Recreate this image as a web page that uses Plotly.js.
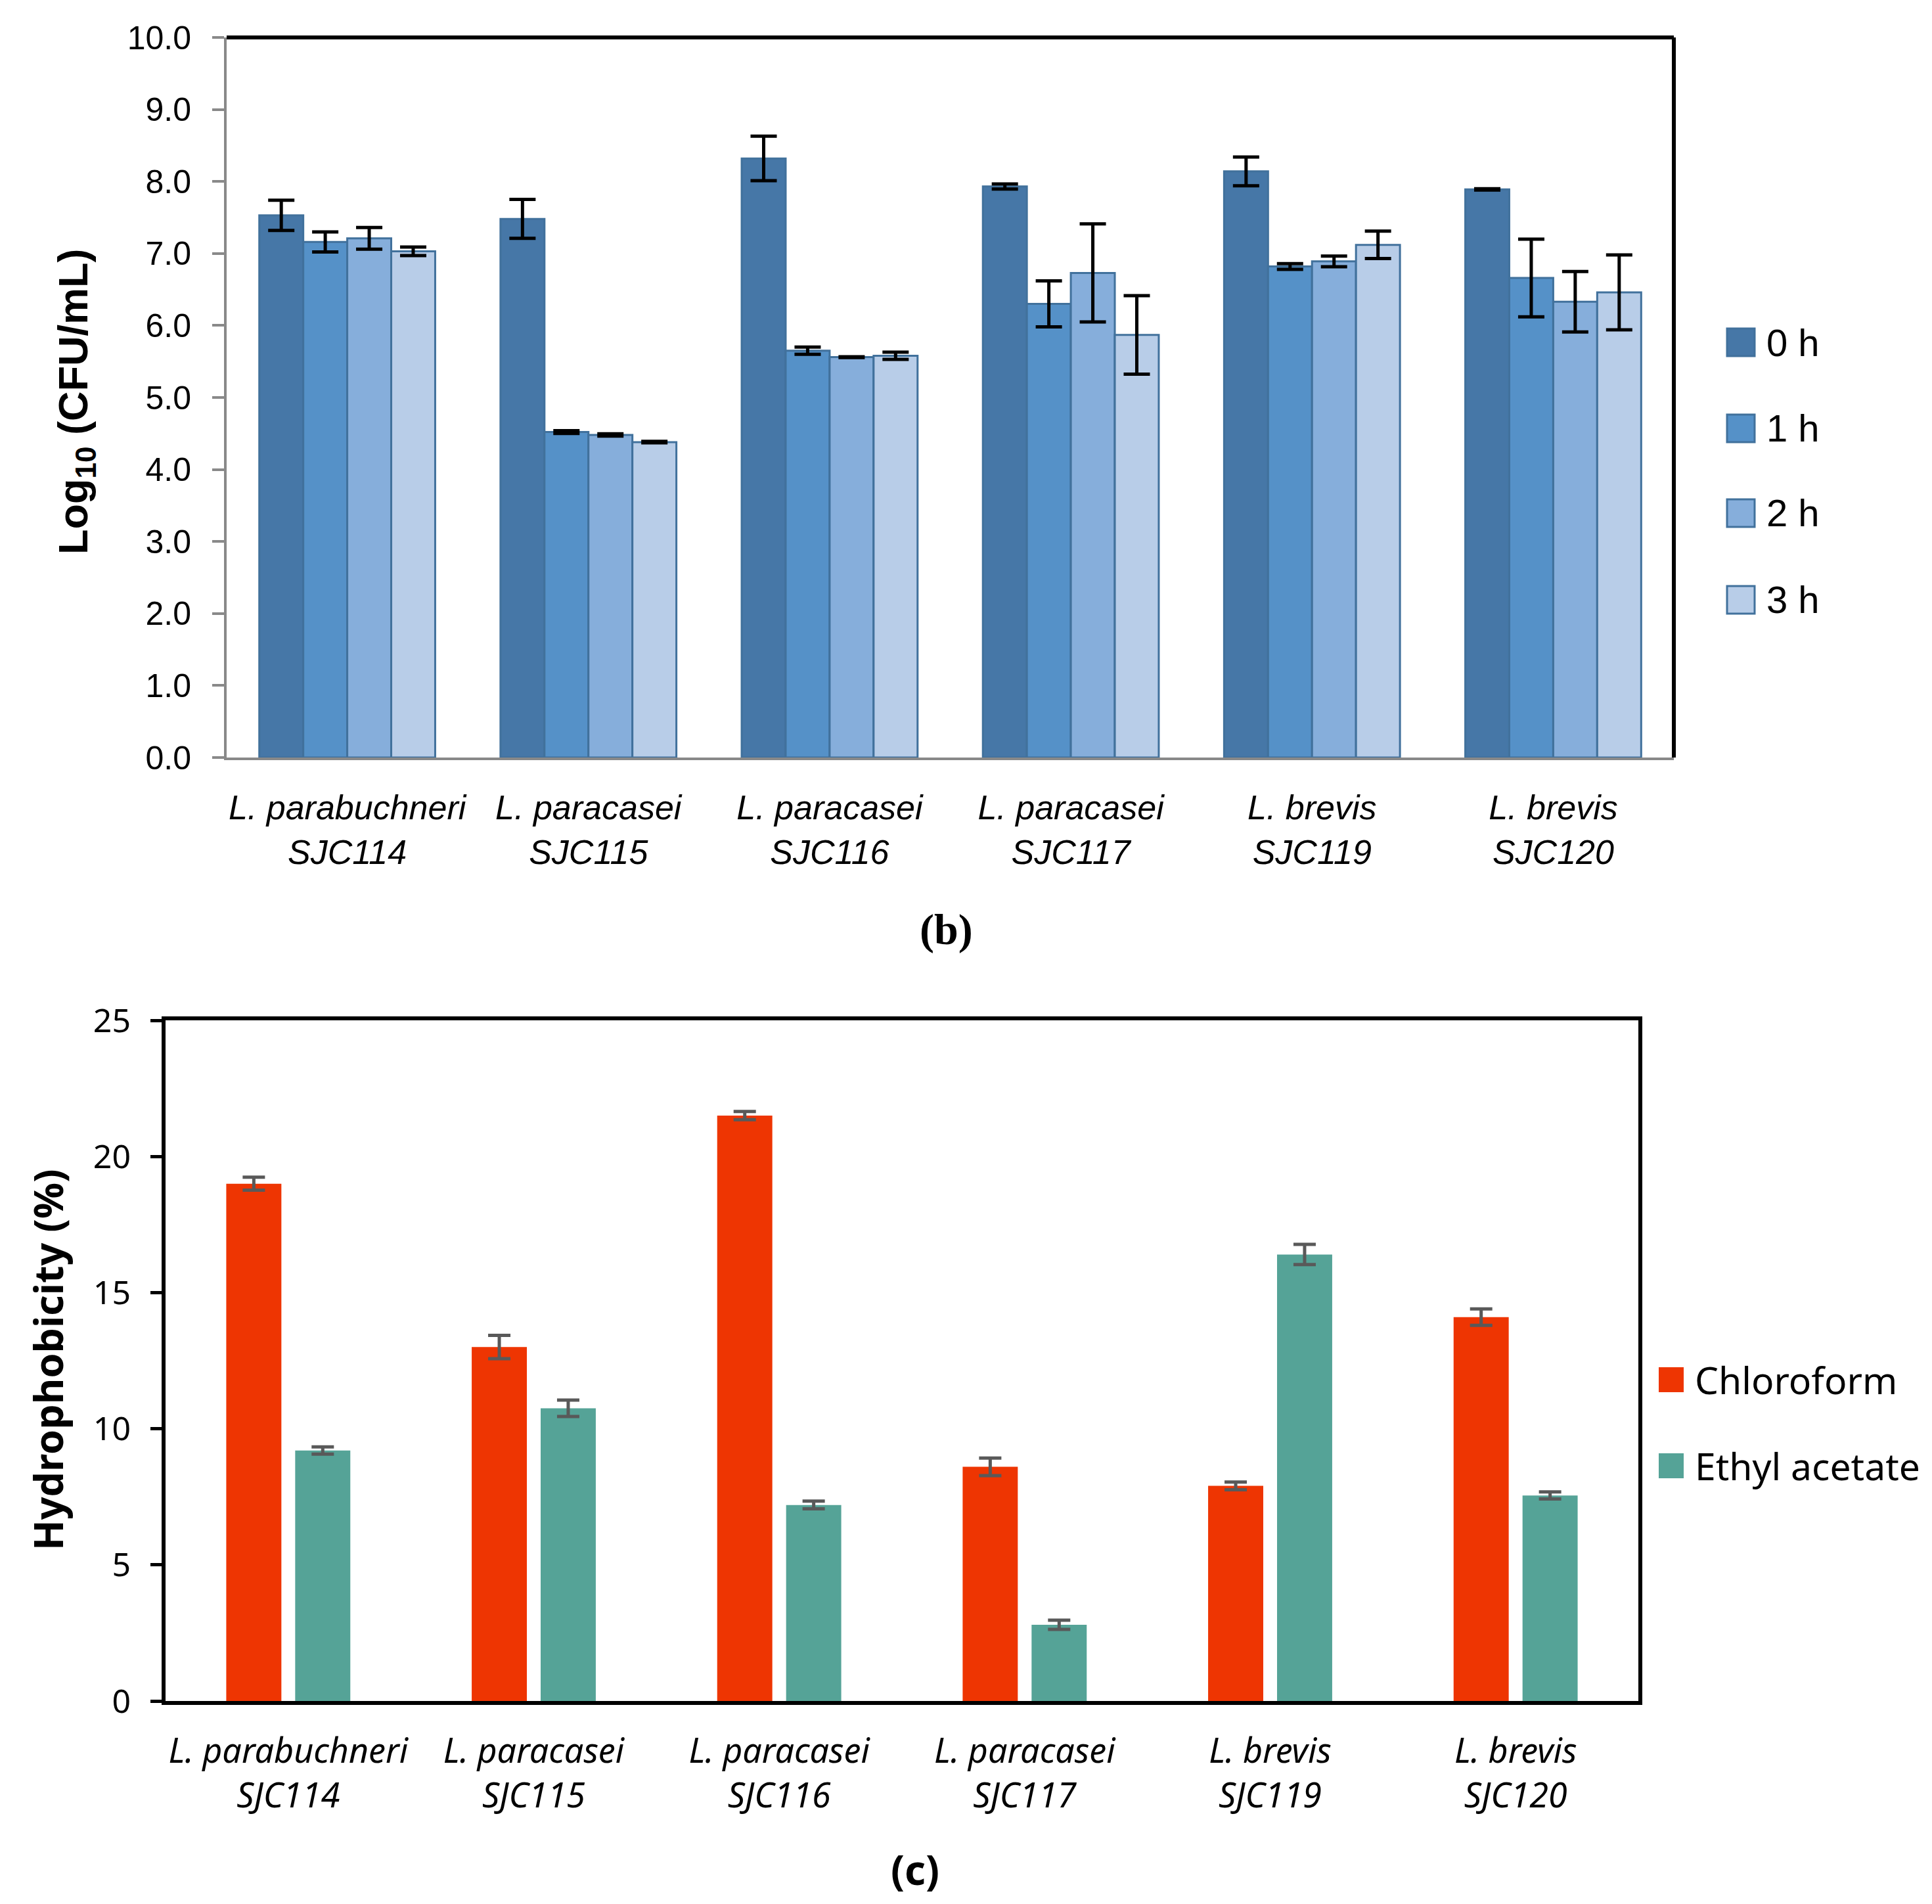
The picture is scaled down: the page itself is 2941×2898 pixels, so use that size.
<!DOCTYPE html>
<html>
<head>
<meta charset="utf-8">
<script src="https://cdn.plot.ly/plotly-3.0.1.min.js"></script>
<style>
  html, body { margin: 0; padding: 0; background: #ffffff; }
  #chart { width: 2941px; height: 2898px; }
</style>
</head>
<body>
<div id="chart"></div>
<script>
// Strains on the category axis (shared by both panels)
const strains = ['SJC114', 'SJC115', 'SJC116', 'SJC117', 'SJC119', 'SJC120'];
const species = ['L. parabuchneri', 'L. paracasei', 'L. paracasei', 'L. paracasei', 'L. brevis', 'L. brevis'];

// Panel (b): viable counts, Log10 (CFU/mL), after 0-3 h exposure
const timeLabels = ['0 h', '1 h', '2 h', '3 h'];
const count0h = [7.53, 7.48, 8.32, 7.93, 8.14, 7.89];
const count0hErr = [0.21, 0.27, 0.31, 0.035, 0.20, 0.01];
const count1h = [7.16, 4.52, 5.65, 6.30, 6.82, 6.66];
const count1hErr = [0.14, 0.02, 0.05, 0.32, 0.04, 0.54];
const count2h = [7.21, 4.48, 5.56, 6.73, 6.89, 6.33];
const count2hErr = [0.15, 0.015, 0.005, 0.68, 0.075, 0.42];
const count3h = [7.03, 4.38, 5.58, 5.87, 7.12, 6.46];
const count3hErr = [0.06, 0.01, 0.05, 0.545, 0.19, 0.52];

// Panel (c): cell-surface hydrophobicity (%)
const solventLabels = ['Chloroform', 'Ethyl acetate'];
const chloroform = [19.0, 13.0, 21.5, 8.6, 7.9, 14.1];
const chloroformErr = [0.24, 0.43, 0.15, 0.32, 0.14, 0.30];
const ethylAcetate = [9.2, 10.75, 7.2, 2.8, 16.4, 7.55];
const ethylAcetateErr = [0.13, 0.30, 0.14, 0.17, 0.37, 0.13];

// ---- page geometry (pixels -> paper fractions) ----
const W = 2941, H = 2898;
const px = v => v / W;
const py = v => 1 - v / H;

const tickText = strains.map((s, i) => species[i] + '<br>' + s);

const sansB = 'Liberation Sans, Arial, sans-serif';
const sansC = 'Noto Sans, Open Sans, sans-serif';

// ---- panel (b) traces ----
const countSeries = [count0h, count1h, count2h, count3h];
const countErrs = [count0hErr, count1hErr, count2hErr, count3hErr];
const blueFills = ['#4677a7', '#5591c8', '#86aedb', '#b8cde8'];
const blueEdge = '#41719c';
const bW = 0.1823;

const traces = countSeries.map((vals, k) => ({
  type: 'bar',
  name: timeLabels[k],
  x: strains,
  y: vals,
  width: bW,
  offset: -2 * bW + k * bW,
  xaxis: 'x',
  yaxis: 'y',
  marker: { color: blueFills[k], line: { color: blueEdge, width: 3 } },
  error_y: { type: 'data', array: countErrs[k], visible: true, color: '#000000', thickness: 5, width: 20 },
  hoverinfo: 'skip'
}));

// ---- panel (c) traces ----
const solventVals = [chloroform, ethylAcetate];
const solventErrs = [chloroformErr, ethylAcetateErr];
const solventColors = ['#ee3502', '#55a397'];
const cW = 0.2246;
const cOffsets = [-0.2527, 0.0281];

solventVals.forEach((vals, k) => {
  traces.push({
    type: 'bar',
    name: solventLabels[k],
    x: strains,
    y: vals,
    width: cW,
    offset: cOffsets[k],
    xaxis: 'x2',
    yaxis: 'y2',
    marker: { color: solventColors[k], line: { width: 0 } },
    error_y: { type: 'data', array: solventErrs[k], visible: true, color: '#595959', thickness: 5, width: 17 },
    hoverinfo: 'skip'
  });
});

// ---- frame of panel (b): top and right edges in black ----
const shapes = [
  { type: 'line', xref: 'x domain', yref: 'y domain', x0: 0, x1: 1, y0: 1, y1: 1, line: { color: '#000000', width: 6 } },
  { type: 'line', xref: 'x domain', yref: 'y domain', x0: 1, x1: 1, y0: 0, y1: 1, line: { color: '#000000', width: 6 } }
];
const annotations = [];

// ---- hand-drawn legends with large swatches ----
const legB = { x: 2629, size: 42, ys: [521, 652, 781, 913], textX: 2687 };
timeLabels.forEach((t, k) => {
  const cy = legB.ys[k];
  shapes.push({
    type: 'rect', xref: 'paper', yref: 'paper',
    x0: px(legB.x), x1: px(legB.x + legB.size),
    y0: py(cy + legB.size / 2), y1: py(cy - legB.size / 2),
    fillcolor: blueFills[k], line: { color: blueEdge, width: 3 }
  });
  annotations.push({
    xref: 'paper', yref: 'paper', x: px(legB.textX), y: py(cy),
    xanchor: 'left', yanchor: 'middle', showarrow: false,
    text: t, font: { family: sansB, size: 58, color: '#000000' }
  });
});

const legC = { x: 2525, size: 38, ys: [2100, 2231], textX: 2578 };
solventLabels.forEach((t, k) => {
  const cy = legC.ys[k];
  shapes.push({
    type: 'rect', xref: 'paper', yref: 'paper',
    x0: px(legC.x), x1: px(legC.x + legC.size),
    y0: py(cy + legC.size / 2), y1: py(cy - legC.size / 2),
    fillcolor: solventColors[k], line: { width: 0 }
  });
  annotations.push({
    xref: 'paper', yref: 'paper', x: px(legC.textX), y: py(cy),
    xanchor: 'left', yanchor: 'middle', showarrow: false,
    text: t, font: { family: sansC, size: 57, color: '#000000' }
  });
});

// axis titles and panel letters
annotations.push(
  {
    xref: 'paper', yref: 'paper', x: px(116), y: py(612), textangle: -90,
    xanchor: 'center', yanchor: 'middle', showarrow: false,
    text: '<b>Log<sub>10</sub> (CFU/mL)</b>', font: { family: sansB, size: 63, color: '#000000' }
  },
  {
    xref: 'paper', yref: 'paper', x: px(72), y: py(2070), textangle: -90,
    xanchor: 'center', yanchor: 'middle', showarrow: false,
    text: '<b>Hydrophobicity (%)</b>', font: { family: sansC, size: 61, color: '#000000' }
  },
  {
    xref: 'paper', yref: 'paper', x: px(1440), y: py(1415),
    xanchor: 'center', yanchor: 'middle', showarrow: false,
    text: '<b>(b)</b>', font: { family: 'Liberation Serif, Times New Roman, serif', size: 66, color: '#000000' }
  },
  {
    xref: 'paper', yref: 'paper', x: px(1393), y: py(2845),
    xanchor: 'center', yanchor: 'middle', showarrow: false,
    text: '<b>(c)</b>', font: { family: sansC, size: 62, color: '#000000' }
  }
);

const layout = {
  width: W,
  height: H,
  margin: { l: 0, r: 0, t: 0, b: 0 },
  paper_bgcolor: '#ffffff',
  plot_bgcolor: '#ffffff',
  showlegend: false,
  barmode: 'group',
  xaxis: {
    domain: [px(345), px(2548)],
    anchor: 'y',
    type: 'category',
    tickvals: strains,
    ticktext: tickText,
    showline: true, linecolor: '#898989', linewidth: 4,
    ticks: '', showgrid: false, zeroline: false,
    ticklabelstandoff: 28,
    tickfont: { family: sansB, size: 52, color: '#000000', style: 'italic' }
  },
  yaxis: {
    domain: [py(1153), py(57)],
    anchor: 'x',
    range: [0, 10],
    dtick: 1,
    tickformat: '.1f',
    showline: true, linecolor: '#898989', linewidth: 4,
    ticks: 'outside', ticklen: 18, tickwidth: 4, tickcolor: '#898989',
    showgrid: false, zeroline: false,
    ticklabelstandoff: 22,
    tickfont: { family: sansB, size: 50, color: '#000000' }
  },
  xaxis2: {
    domain: [px(252), px(2494)],
    anchor: 'y2',
    type: 'category',
    tickvals: strains,
    ticktext: tickText,
    showline: true, mirror: true, linecolor: '#000000', linewidth: 6,
    ticks: '', showgrid: false, zeroline: false,
    ticklabelstandoff: 26,
    tickfont: { family: sansC, size: 52, color: '#000000', style: 'italic' }
  },
  yaxis2: {
    domain: [py(2589), py(1553)],
    anchor: 'x2',
    range: [0, 25],
    dtick: 5,
    showline: true, mirror: true, linecolor: '#000000', linewidth: 6,
    ticks: 'outside', ticklen: 17, tickwidth: 5, tickcolor: '#000000',
    showgrid: false, zeroline: false,
    ticklabelstandoff: 20,
    tickfont: { family: sansC, size: 50, color: '#000000' }
  },
  shapes: shapes,
  annotations: annotations
};

Plotly.newPlot('chart', traces, layout, { displayModeBar: false, staticPlot: true });
</script>
</body>
</html>
